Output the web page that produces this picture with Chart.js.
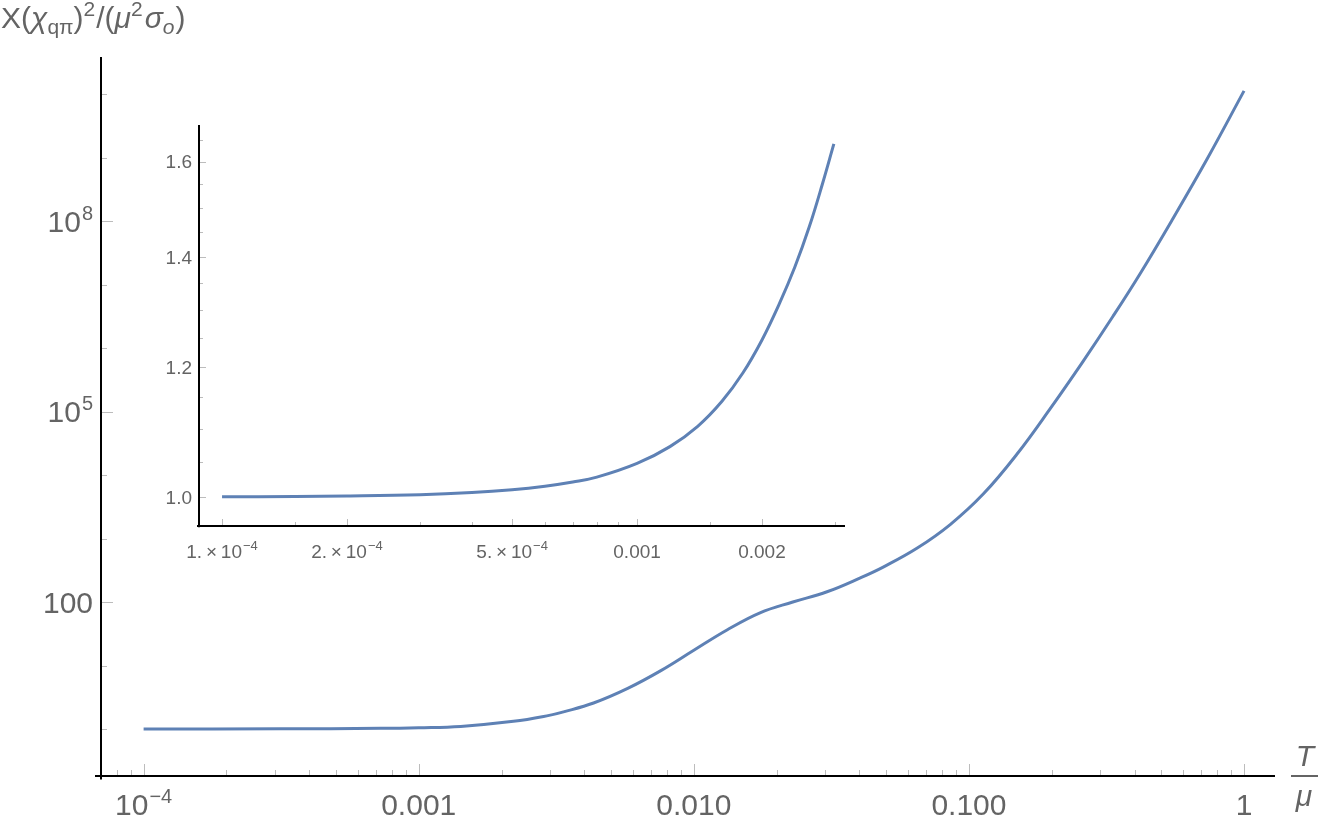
<!DOCTYPE html>
<html>
<head>
<meta charset="utf-8">
<script src="https://cdn.jsdelivr.net/npm/chart.js@4.4.1/dist/chart.umd.min.js"></script>
<style>
  html, body { margin: 0; padding: 0; background: #fff; }
  #wrap { position: relative; width: 1321px; height: 825px; }
  #wrap canvas { position: absolute; left: 0; top: 0; }
</style>
</head>
<body>
<div id="wrap">
  <canvas id="main" width="1321" height="825"></canvas>
  <canvas id="inset" width="1321" height="825"></canvas>
</div>
<script>
// main curve, T/mu against X(chi)^2/(mu^2 sigma_o)
const mainX = [1e-4, 3.16e-4, 7.26e-4, 1e-3, 1.42e-3, 2.21e-3, 2.98e-3, 3.36e-3, 4.32e-3,
  5.75e-3, 7.59e-3, 0.01, 0.0132, 0.0174, 0.0229, 0.0305, 0.0403, 0.0488,
  0.0649, 0.0855, 0.1127, 0.1496, 0.1972, 0.260, 0.334, 0.419, 0.552, 0.735, 1.0];
const mainY = [1.0, 1.006, 1.025, 1.048, 1.10, 1.32, 1.64, 1.86, 2.57,
  4.37, 8.32, 17.4, 36.3, 67.6, 100, 145, 240, 355,
  708, 1660, 5010, 21400, 110000, 617000, 3.16e6, 1.48e7, 1.10e8, 9.55e8, 1.12e10];

// inset curve (low temperature part)
const insetX = [1e-4, 1.5e-4, 2e-4, 3e-4, 4e-4, 5e-4, 6e-4, 7e-4, 8e-4, 1e-3,
  1.2e-3, 1.4e-3, 1.6e-3, 1.8e-3, 2e-3, 2.2e-3, 2.4e-3, 2.6e-3, 2.8e-3, 2.98e-3];
const insetY = [1.0, 1.0006, 1.0012, 1.003, 1.006, 1.010, 1.015, 1.021, 1.028, 1.048,
  1.073, 1.104, 1.143, 1.19, 1.246, 1.31, 1.38, 1.46, 1.552, 1.64];

// ticks
const mainXTicks = [1e-4, 1e-3, 1e-2, 1e-1, 1];
const mainXTickLabels = ['10^\u22124', '0.001', '0.010', '0.100', '1'];
const mainYTicks = [1e2, 1e5, 1e8];
const mainYTickLabels = ['100', '10^5', '10^8'];
const insetXTicks = [1e-4, 2e-4, 5e-4, 1e-3, 2e-3];
const insetXTickLabels = ['1.\u2009\u00d7\u200910^\u22124', '2.\u2009\u00d7\u200910^\u22124', '5.\u2009\u00d7\u200910^\u22124', '0.001', '0.002'];
const insetYTicks = [1.0, 1.2, 1.4, 1.6];
const insetYTickLabels = ['1.0', '1.2', '1.4', '1.6'];

const mainXMinor = [];
for (let e = -5; e <= 0; e++) for (let m = 2; m <= 9; m++) mainXMinor.push(m * Math.pow(10, e));
const mainYMinor = [1, 10, 1e3, 1e4, 1e6, 1e7, 1e9, 1e10];
const insetXMinor = [1.5e-4, 3e-4, 4e-4, 6e-4, 7e-4, 8e-4, 9e-4, 1.5e-3, 3e-3];
const insetYMinor = [1.05, 1.1, 1.15, 1.25, 1.3, 1.35, 1.45, 1.5, 1.55, 1.65];

const FONT = '"Liberation Sans", Arial, Helvetica, sans-serif';
const TEXT = '#646464';
const TICK = '#bcbcbc';
const LINE = '#5E81B5';

// draws "base^sup" labels
function drawLabel(ctx, text, x, y, size, align) {
  const parts = text.split('^');
  const base = parts[0], sup = parts[1] || '';
  const supSize = Math.round(size * 0.68);
  ctx.font = size + 'px ' + FONT;
  const wb = ctx.measureText(base).width;
  ctx.font = supSize + 'px ' + FONT;
  const ws = sup ? ctx.measureText(sup).width + 1 : 0;
  const w = wb + ws;
  let sx = x;
  if (align === 'center') sx = x - w / 2;
  else if (align === 'right') sx = x - w;
  ctx.fillStyle = TEXT;
  ctx.textAlign = 'left';
  ctx.textBaseline = 'alphabetic';
  ctx.font = size + 'px ' + FONT;
  ctx.fillText(base, sx, y);
  if (sup) {
    ctx.font = supSize + 'px ' + FONT;
    ctx.fillText(sup, sx + wb + 1, y - size * 0.4);
  }
}

// rich text: list of [text, size, italic, dy, extra gap]
function drawRich(ctx, parts, x, y) {
  let cx = x;
  ctx.fillStyle = TEXT;
  ctx.textAlign = 'left';
  ctx.textBaseline = 'alphabetic';
  parts.forEach(p => {
    ctx.font = (p[2] ? 'italic ' : '') + p[1] + 'px ' + FONT;
    ctx.fillText(p[0], cx, y + (p[3] || 0));
    cx += ctx.measureText(p[0]).width + (p[4] || 0);
  });
}

function axesPlugin(o) {
  return {
    id: 'axes',
    beforeDatasetsDraw(chart) {
      const ctx = chart.ctx, xs = chart.scales.x, ys = chart.scales.y, a = chart.chartArea;
      ctx.save();
      ctx.strokeStyle = TICK;
      ctx.lineWidth = 1;
      const tx = (vals, len) => vals.forEach(v => {
        if (v < xs.min || v > xs.max) return;
        const px = Math.round(xs.getPixelForValue(v)) + 0.5;
        ctx.beginPath(); ctx.moveTo(px, a.bottom); ctx.lineTo(px, a.bottom - len); ctx.stroke();
      });
      const ty = (vals, len) => vals.forEach(v => {
        if (v < ys.min || v > ys.max) return;
        const py = Math.round(ys.getPixelForValue(v)) + 0.5;
        ctx.beginPath(); ctx.moveTo(a.left, py); ctx.lineTo(a.left + len, py); ctx.stroke();
      });
      tx(o.xMinor, o.minorLen); tx(o.xTicks, o.majorLen);
      ty(o.yMinor, o.minorLen); ty(o.yTicks, o.majorLen);
      ctx.strokeStyle = '#000';
      ctx.lineWidth = 2;
      ctx.beginPath();
      ctx.moveTo(a.left - o.over, a.bottom); ctx.lineTo(a.right, a.bottom);
      ctx.moveTo(a.left, a.top); ctx.lineTo(a.left, a.bottom + o.over * 0.6);
      ctx.stroke();
      ctx.restore();
    },
    afterDraw(chart) {
      const ctx = chart.ctx, xs = chart.scales.x, ys = chart.scales.y, a = chart.chartArea;
      ctx.save();
      o.xTicks.forEach((v, i) => drawLabel(ctx, o.xLabels[i], xs.getPixelForValue(v), a.bottom + o.xLabelGap, o.size, 'center'));
      o.yTicks.forEach((v, i) => drawLabel(ctx, o.yLabels[i], a.left - o.yLabelGap, ys.getPixelForValue(v) + o.size * 0.36, o.size, 'right'));
      if (o.extra) o.extra(ctx, a);
      ctx.restore();
    }
  };
}

function baseOptions(pad, xmin, xmax, ymin, ymax) {
  return {
    responsive: false,
    animation: false,
    devicePixelRatio: 1,
    layout: { padding: pad },
    plugins: { legend: { display: false }, tooltip: { enabled: false } },
    scales: {
      x: { type: 'logarithmic', min: xmin, max: xmax, display: false },
      y: { type: 'logarithmic', min: ymin, max: ymax, display: false }
    }
  };
}

function lineData(xs, ys) {
  return {
    datasets: [{
      data: xs.map((x, i) => ({ x: x, y: ys[i] })),
      borderColor: LINE,
      borderWidth: 3,
      pointRadius: 0,
      fill: false,
      tension: 0.4,
      borderCapStyle: 'butt'
    }]
  };
}

new Chart(document.getElementById('main'), {
  type: 'line',
  data: lineData(mainX, mainY),
  options: baseOptions({ left: 101, right: 46, top: 57, bottom: 49 }, 7.04e-5, 1.296, 0.182, 3.83e10),
  plugins: [axesPlugin({
    xTicks: mainXTicks, xLabels: mainXTickLabels, xMinor: mainXMinor,
    yTicks: mainYTicks, yLabels: mainYTickLabels, yMinor: mainYMinor,
    majorLen: 12, minorLen: 6, over: 6, size: 30, xLabelGap: 39, yLabelGap: 8,
    extra(ctx, a) {
      // y axis title
      drawRich(ctx, [
        ['X', 30], ['(', 30], ['\u03c7', 30, true], ['q\u03c0', 21, false, 6],
        [')', 30], ['2', 21, false, -12, 1], ['/', 30], ['(', 30], ['\u03bc', 30, true],
        ['2', 21, false, -12, 2], ['\u03c3', 30, true], ['o', 21, true, 6, 1], [')', 30]
      ], 1, 28);
      // x axis title T/mu as a fraction
      ctx.font = 'italic 30px ' + FONT;
      ctx.fillStyle = TEXT;
      ctx.textAlign = 'center';
      ctx.fillText('T', 1305, 766);
      ctx.fillText('\u03bc', 1304, 806);
      ctx.fillRect(1291, a.bottom - 1, 27, 2);
    }
  })]
});

new Chart(document.getElementById('inset'), {
  type: 'line',
  data: lineData(insetX, insetY),
  options: baseOptions({ left: 199, right: 476, top: 125, bottom: 299 }, 8.80e-5, 3.17e-3, 0.9645, 1.684),
  plugins: [axesPlugin({
    xTicks: insetXTicks, xLabels: insetXTickLabels, xMinor: insetXMinor,
    yTicks: insetYTicks, yLabels: insetYTickLabels, yMinor: insetYMinor,
    majorLen: 7, minorLen: 4, over: 2, size: 19, xLabelGap: 32, yLabelGap: 7
  })]
});
</script>
</body>
</html>
